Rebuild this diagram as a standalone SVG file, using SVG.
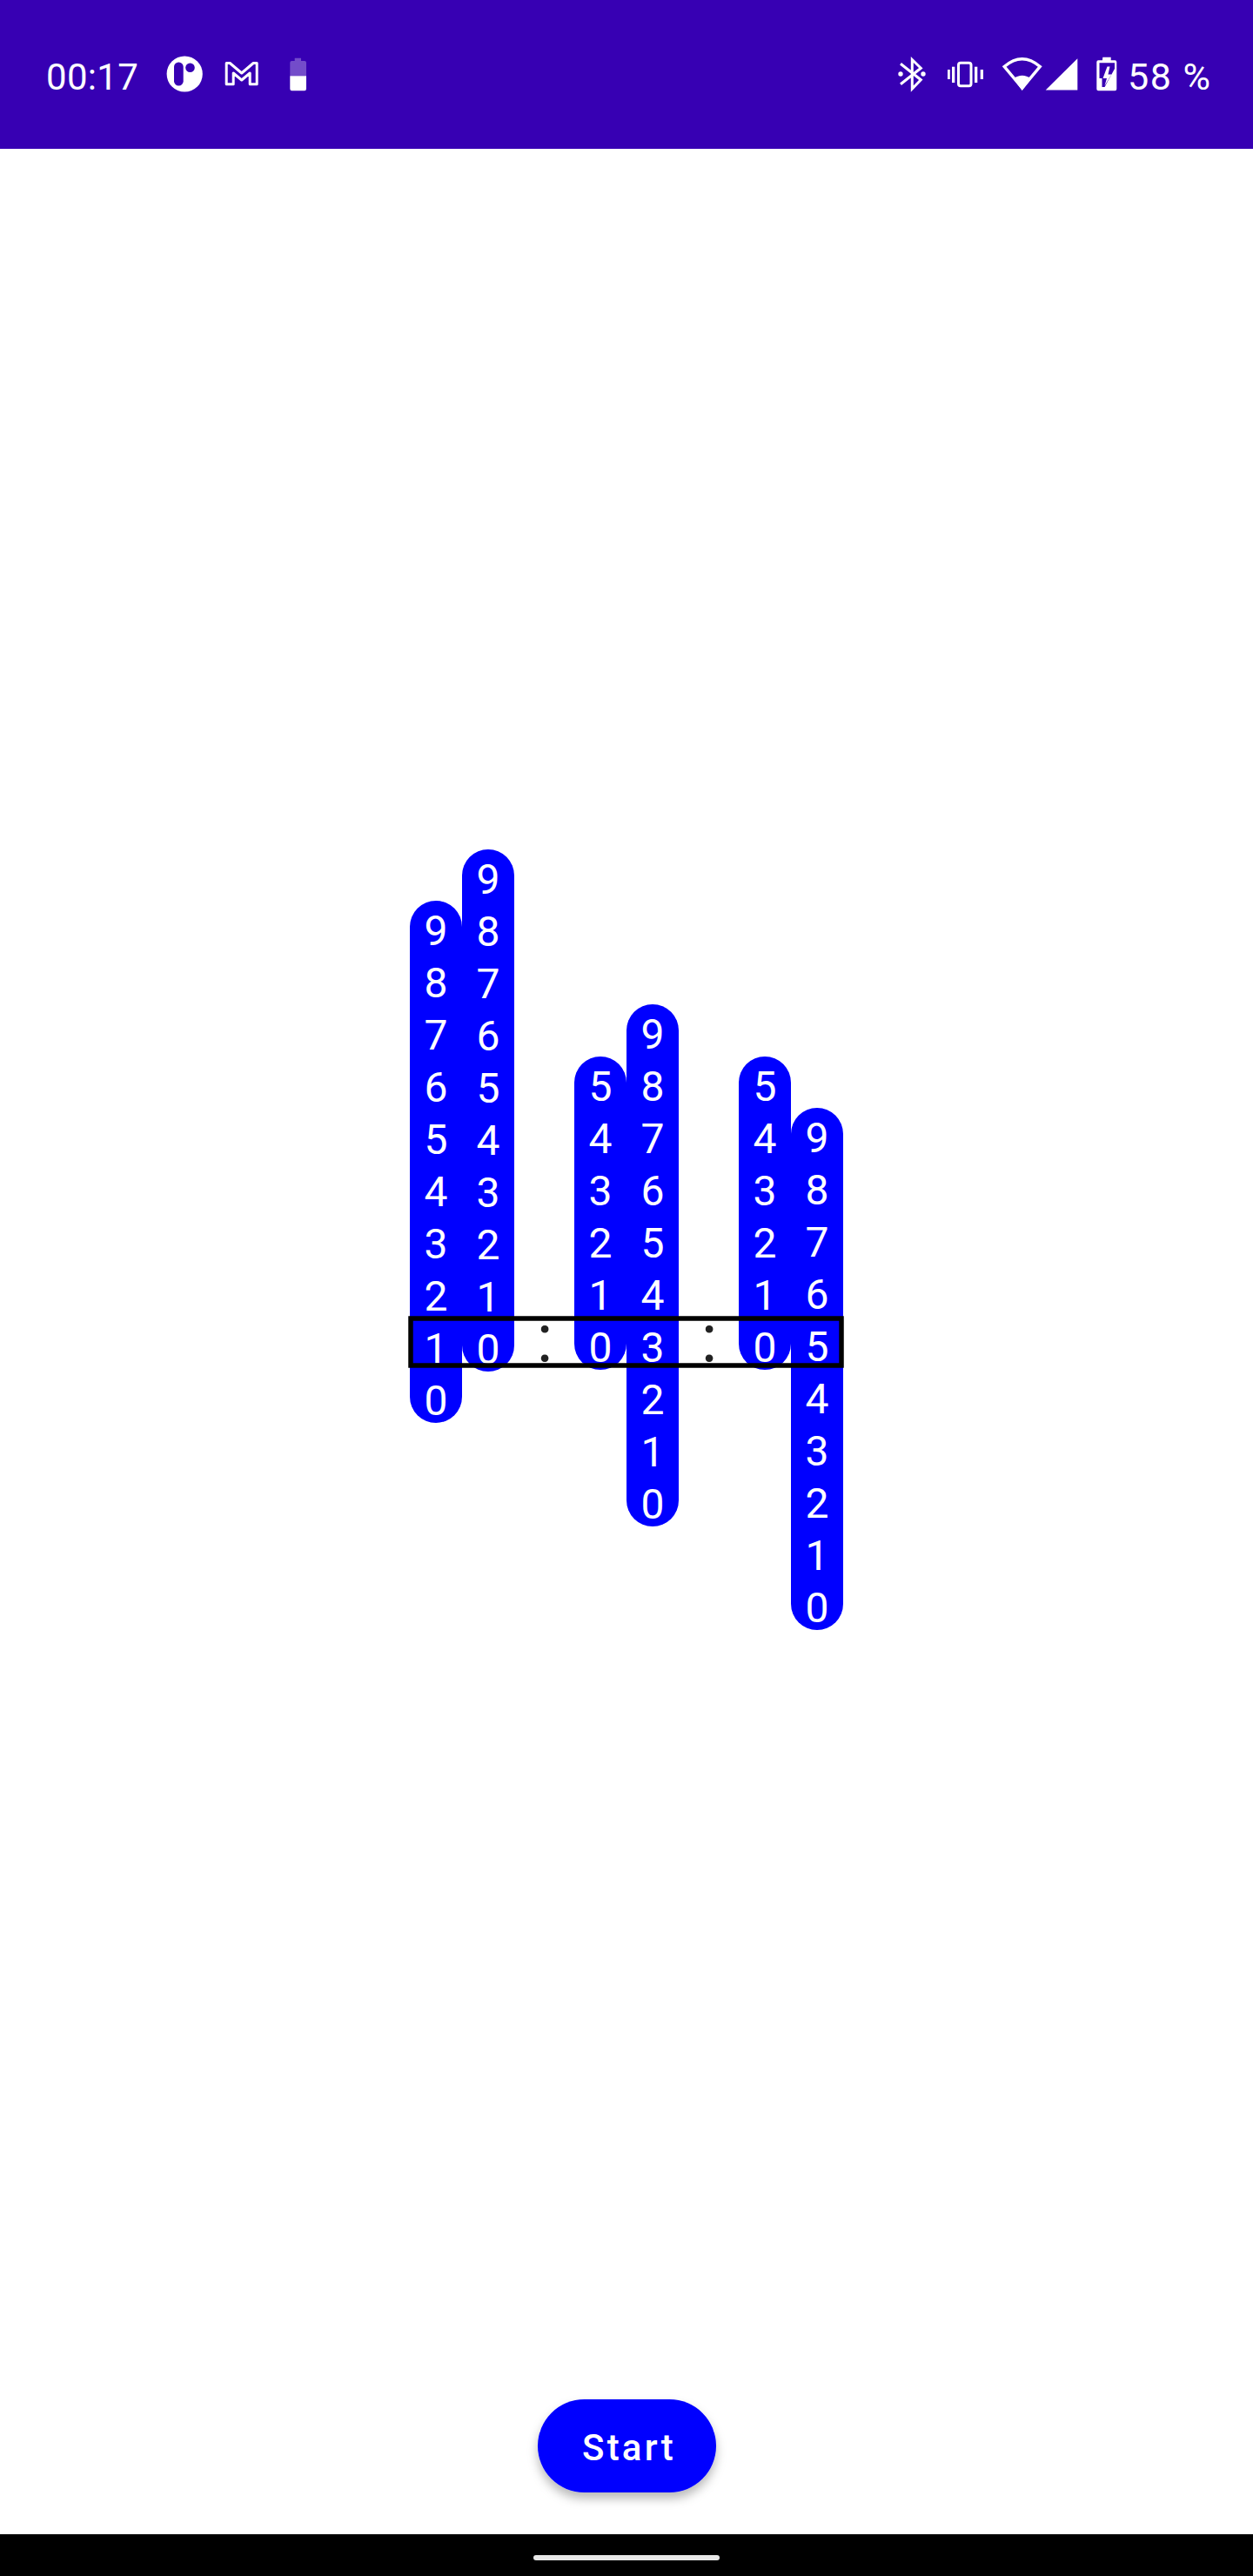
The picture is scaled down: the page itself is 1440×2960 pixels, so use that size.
<svg xmlns="http://www.w3.org/2000/svg" width="1440" height="2960" viewBox="0 0 1440 2960">
<style>
.col{fill:#0000ff}
.d{font-family:Roboto,"Liberation Sans",sans-serif;font-size:48px;fill:#fff;text-anchor:middle}
.c{font-family:Roboto,"Liberation Sans",sans-serif;font-size:77px;fill:#222;text-anchor:middle}
.s{font-family:Roboto,"Liberation Sans",sans-serif;font-size:42px;fill:#fff}
.bar{fill:#fff}
.ln{fill:none;stroke:#fff;stroke-width:3}
</style>
<defs><filter id="sh" x="-20%" y="-30%" width="140%" height="170%"><feDropShadow dx="0" dy="7" stdDeviation="6" flood-color="#000" flood-opacity="0.28"/></filter></defs>
<rect width="1440" height="2960" fill="#fff"/>
<g id="status-bar">
<rect width="1440" height="171" fill="#3700b3"/>
<text class="s" x="53" y="103" letter-spacing="0.300">00:17</text>
<g id="icon-app"><circle cx="212.2" cy="85" r="20.6" fill="#fff"/><rect x="200" y="71.5" width="10.7" height="27" rx="5.3" fill="#3700b3"/><circle cx="218.5" cy="77.7" r="5.3" fill="#3700b3"/></g>
<g id="icon-mail"><path class="ln" d="M260.2 72.5h4L277.7 84l13.5-11.5h4V96.8h-8V84l-9.500 8-9.500-8V96.800h-8z" stroke-linejoin="round"/></g>
<g id="icon-battery-low"><path d="M338.700 66.700h7.300V70h4q2 0 2 2v15.300h-18.700V72q0-2 2-2h3.400z" fill="#734cca"/><path d="M333.300 87.300H352V102q0 2.300-2 2.300h-14.700q-2 0-2-2.300z" fill="#fff"/></g>
<g id="icon-bluetooth"><path class="ln" d="M1035 73.300 1058.300 91.700 1048.300 102V68.500L1058.300 78.300 1035 96.700"/><circle cx="1035" cy="85" r="2.700" class="bar"/><circle cx="1061" cy="85" r="2.700" class="bar"/></g>
<g id="icon-vibrate"><rect class="ln" x="1101.500" y="72.200" width="14.500" height="26.500" rx="2.500"/><rect class="bar" x="1089" y="80" width="2.800" height="11"/><rect class="bar" x="1094" y="76.700" width="3.300" height="18.300"/><rect class="bar" x="1120" y="76.700" width="3.300" height="18.300"/><rect class="bar" x="1126.700" y="80" width="3.300" height="11"/></g>
<g id="icon-wifi"><path d="M1174.700 101 1154.200 76.500Q1174.700 59 1195.200 76.500z" fill="none" stroke="#fff" stroke-width="3.500"/><path class="bar" d="M1174.700 104 1164.500 90.500Q1174.700 83 1185 90.500z"/></g>
<path id="icon-signal" class="bar" d="M1201.700 103.500H1238.300V67.300z"/>
<g id="icon-battery-charging"><path class="bar" d="M1267.300 65.700h9.400v3.600h4.600q2 0 2 2v31q0 2-2 2h-19q-2 0-2-2v-31q0-2 2-2h4.600z"/><path d="M1263.500 72.300H1281V79L1269.500 100H1266.500L1266.500 90H1263.500z" fill="#3700b3"/><path class="bar" d="M1272.500 76.500 1267.500 90H1272L1269.500 98.500 1277.500 85.500H1273.500L1275.500 76.500z"/></g>
<text class="s" x="1296" y="103" font-size="42" letter-spacing="1.500" style="font-size:43px">58 %</text>
</g>
<g id="col-1"><rect class="col" x="471" y="1035" width="60" height="600" rx="30"/>
<text class="d" x="501" y="1086">9</text><text class="d" x="501" y="1146">8</text><text class="d" x="501" y="1206">7</text><text class="d" x="501" y="1266">6</text><text class="d" x="501" y="1326">5</text><text class="d" x="501" y="1386">4</text><text class="d" x="501" y="1446">3</text><text class="d" x="501" y="1506">2</text><text class="d" x="501" y="1566">1</text><text class="d" x="501" y="1626">0</text></g>
<g id="col-2"><rect class="col" x="531" y="976" width="60" height="600" rx="30"/>
<text class="d" x="561" y="1027">9</text><text class="d" x="561" y="1087">8</text><text class="d" x="561" y="1147">7</text><text class="d" x="561" y="1207">6</text><text class="d" x="561" y="1267">5</text><text class="d" x="561" y="1327">4</text><text class="d" x="561" y="1387">3</text><text class="d" x="561" y="1447">2</text><text class="d" x="561" y="1507">1</text><text class="d" x="561" y="1567">0</text></g>
<text id="colon-1" class="c" x="626" y="1565">:</text>
<g id="col-3"><rect class="col" x="660" y="1214" width="60" height="360" rx="30"/>
<text class="d" x="690" y="1265">5</text><text class="d" x="690" y="1325">4</text><text class="d" x="690" y="1385">3</text><text class="d" x="690" y="1445">2</text><text class="d" x="690" y="1505">1</text><text class="d" x="690" y="1565">0</text></g>
<g id="col-4"><rect class="col" x="720" y="1154" width="60" height="600" rx="30"/>
<text class="d" x="750" y="1205">9</text><text class="d" x="750" y="1265">8</text><text class="d" x="750" y="1325">7</text><text class="d" x="750" y="1385">6</text><text class="d" x="750" y="1445">5</text><text class="d" x="750" y="1505">4</text><text class="d" x="750" y="1565">3</text><text class="d" x="750" y="1625">2</text><text class="d" x="750" y="1685">1</text><text class="d" x="750" y="1745">0</text></g>
<text id="colon-2" class="c" x="815" y="1565">:</text>
<g id="col-5"><rect class="col" x="849" y="1214" width="60" height="360" rx="30"/>
<text class="d" x="879" y="1265">5</text><text class="d" x="879" y="1325">4</text><text class="d" x="879" y="1385">3</text><text class="d" x="879" y="1445">2</text><text class="d" x="879" y="1505">1</text><text class="d" x="879" y="1565">0</text></g>
<g id="col-6"><rect class="col" x="909" y="1273" width="60" height="600" rx="30"/>
<text class="d" x="939" y="1324">9</text><text class="d" x="939" y="1384">8</text><text class="d" x="939" y="1444">7</text><text class="d" x="939" y="1504">6</text><text class="d" x="939" y="1564">5</text><text class="d" x="939" y="1624">4</text><text class="d" x="939" y="1684">3</text><text class="d" x="939" y="1744">2</text><text class="d" x="939" y="1804">1</text><text class="d" x="939" y="1864">0</text></g>
<rect id="window" x="472" y="1515" width="495" height="54" fill="none" stroke="#000" stroke-width="5.500"/>
<g id="start-button"><rect x="618" y="2757" width="205" height="107" rx="53.500" fill="#0000ff" filter="url(#sh)"/>
<text x="669" y="2827" font-family="Roboto,'Liberation Sans',sans-serif" font-size="42" font-weight="500" letter-spacing="3.200" fill="#fff">Start</text></g>
<g id="nav-bar"><rect y="2912" width="1440" height="48" fill="#000"/><rect x="613" y="2936" width="214" height="6" rx="3" fill="#e8e8e8"/></g>
</svg>
